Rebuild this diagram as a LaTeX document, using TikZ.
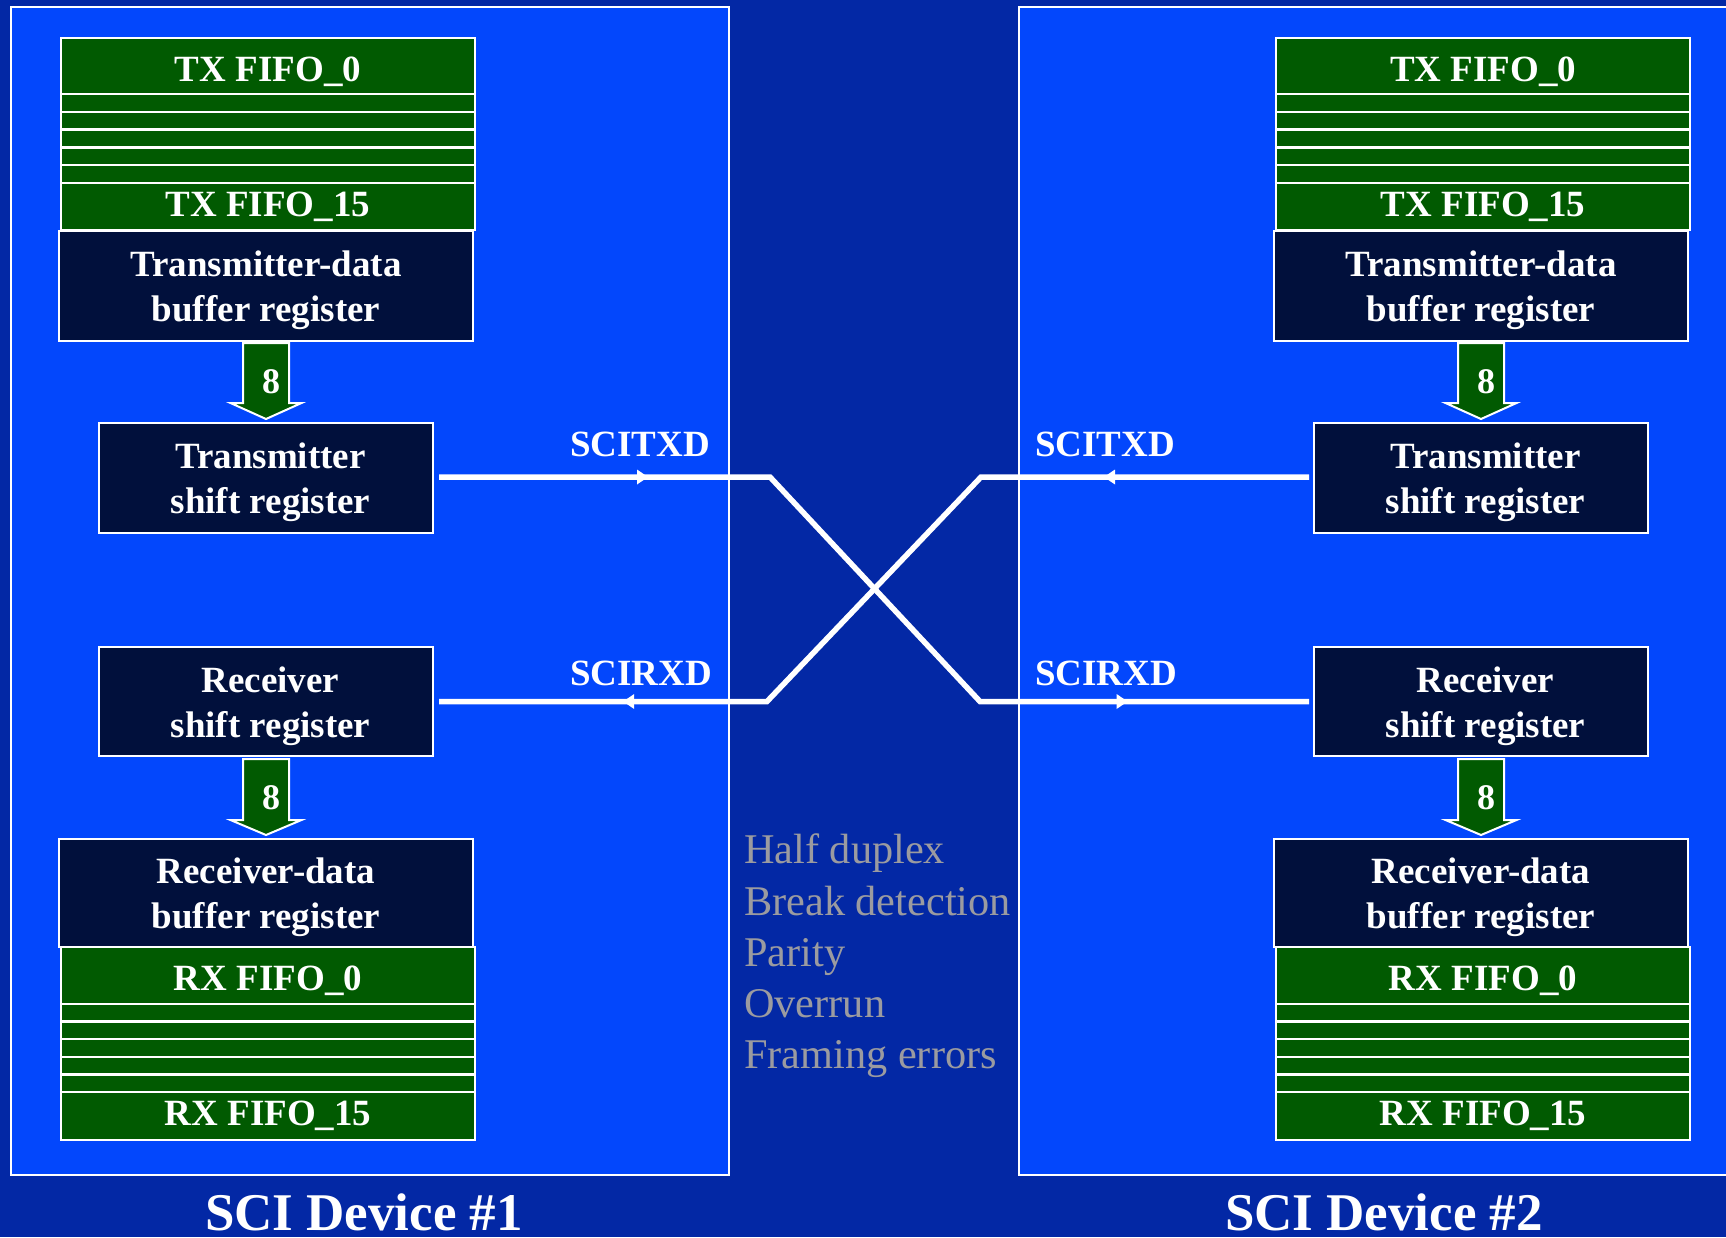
\documentclass[tikz,border=0pt]{standalone}
\usepackage{fontspec}
\setmainfont{Liberation Serif}
\usetikzlibrary{arrows.meta,decorations.markings,calc}
\definecolor{bgdark}{RGB}{3,40,165}
\definecolor{panelblue}{RGB}{3,71,252}
\definecolor{regnavy}{RGB}{1,16,60}
\definecolor{fifogreen}{RGB}{1,90,1}
\definecolor{notegray}{RGB}{155,155,160}
\begin{document}
\begin{tikzpicture}[x=1pt,y=-1pt,
  regbox/.style={draw=white,line width=2pt,fill=regnavy,text=white,align=center,inner sep=0pt,
    text depth=0pt,font=\bfseries\fontsize{37}{45}\selectfont},
  regtext/.style={text=white,align=center,inner sep=0pt,text depth=0pt,
    font=\bfseries\fontsize{37}{45}\selectfont},
  fifobody/.style={draw=white,line width=2pt,fill=fifogreen},
  fifosep/.style={white,line width=2.5pt},
  fifolabel/.style={text=white,inner sep=0pt,anchor=base,font=\bfseries\fontsize{37}{45}\selectfont},
  busarrow/.style={draw=white,line width=2pt,fill=fifogreen,line join=miter},
  buslabel/.style={text=white,inner sep=0pt,anchor=base,font=\bfseries\fontsize{36}{40}\selectfont},
  panel/.style={draw=white,line width=2pt,fill=panelblue},
  wire/.style={white,line width=5.5pt},
  dirtip/.style={postaction={decorate,decoration={markings,
    mark=at position #1 with {\arrow{Triangle[length=11pt,width=15pt,line width=0pt]}}}}},
  signame/.style={text=white,inner sep=0pt,anchor=base west,font=\bfseries\fontsize{37}{40}\selectfont},
  devname/.style={text=white,inner sep=0pt,anchor=base,font=\bfseries\fontsize{53}{60}\selectfont},
  notes/.style={text=notegray,inner sep=0pt,anchor=base west,font=\fontsize{42.3}{51}\selectfont},
]
% background and the two device panels
\fill[bgdark] (0,0) rectangle (1726,1237);
\useasboundingbox (0,0) rectangle (1726,1237);
\clip (0,0) rectangle (1726,1237);
\draw[panel] (11,7) rectangle (729,1175);
\draw[panel] (1019,7) rectangle (1745,1175);

% one SCI device per panel
\foreach \s/\dx in {1/0,2/1215}{
  \begin{scope}[xshift=\dx pt]
    % transmit FIFO
    \draw[fifobody] (61,38) rectangle (475,230);
    \foreach \y in {94,111.8,129.6,147.4,165.2,183} \draw[fifosep] (61,\y) -- (475,\y);
    \node[fifolabel] (txfa\s) at (268,81.5) {TX FIFO\_0};
    \node[fifolabel] (txfb\s) at (268,216.5) {TX FIFO\_15};
    \node[regbox,minimum width=414pt,minimum height=110pt] (txbuf\s) at (266,286)
      {Transmitter-data\\buffer register};
    \node[regbox,minimum width=334pt,minimum height=110pt] (txs\s) at (266,478) {};
    \node[regtext] (txst\s) at ([xshift=4.5pt]txs\s.center) {Transmitter\\shift register};
    \node[regbox,minimum width=334pt,minimum height=109pt] (rxs\s) at (266,701.5) {};
    \node[regtext] (rxst\s) at ([xshift=4.5pt,yshift=-1pt]rxs\s.center) {Receiver\\shift register};
    \node[regbox,minimum width=414pt,minimum height=108pt] (rxbuf\s) at (266,893)
      {Receiver-data\\buffer register};
    % receive FIFO
    \draw[fifobody] (61,947) rectangle (475,1140);
    \foreach \y in {1004,1021.6,1039.2,1056.8,1074.4,1092} \draw[fifosep] (61,\y) -- (475,\y);
    \node[fifolabel] (rxfa\s) at (268,990.5) {RX FIFO\_0};
    \node[fifolabel] (rxfb\s) at (268,1125) {RX FIFO\_15};
    % 8-bit transfers between buffer and shift registers
    \draw[busarrow] ([xshift=-23pt,yshift=-1pt]txbuf\s.south) -- ++(0,60) -- ++(-12.5,0)
      -- ++(35.5,16) -- ++(35.5,-16) -- ++(-12.5,0) -- ++(0,-60) -- cycle;
    \node[buslabel] (txw\s) at ([xshift=5pt,yshift=-51pt]txbuf\s.south) {8};
    \draw[busarrow] ([xshift=-23pt,yshift=-2pt]rxs\s.south) -- ++(0,61) -- ++(-12.5,0)
      -- ++(35.5,15) -- ++(35.5,-15) -- ++(-12.5,0) -- ++(0,-61) -- cycle;
    \node[buslabel] (rxw\s) at ([xshift=5pt,yshift=-52pt]rxs\s.south) {8};
  \end{scope}
}

% crossed serial lines
\coordinate (bendAa) at (770,477);
\coordinate (bendAb) at (980,701.5);
\coordinate (bendBa) at (981,477);
\coordinate (bendBb) at (767,701.5);
\draw[wire,dirtip=209pt,dirtip=786pt] ([xshift=5pt,yshift=1pt]txs1.east) -- (bendAa) -- (bendAb)
  -- ([xshift=-4pt]rxs2.west);
\draw[wire,dirtip=205pt,dirtip=782pt] ([xshift=-4pt,yshift=1pt]txs2.west) -- (bendBa) -- (bendBb)
  -- ([xshift=5pt]rxs1.east);

\node[signame] (txdA) at (570,456) {SCITXD};
\node[signame] (rxdA) at (570,685) {SCIRXD};
\node[signame] (txdB) at (1035,456) {SCITXD};
\node[signame] (rxdB) at (1035,685) {SCIRXD};

% feature list
\node[notes] (noteA) at (744,863) {Half duplex};
\node[notes] (noteB) at (744,915) {Break detection};
\node[notes] (noteC) at (744,966) {Parity};
\node[notes] (noteD) at (744,1017) {Overrun};
\node[notes] (noteE) at (744,1068) {Framing errors};

\node[devname] (devA) at (364,1230) {SCI Device \#1};
\node[devname] (devB) at (1384,1230) {SCI Device \#2};
\end{tikzpicture}
\end{document}
